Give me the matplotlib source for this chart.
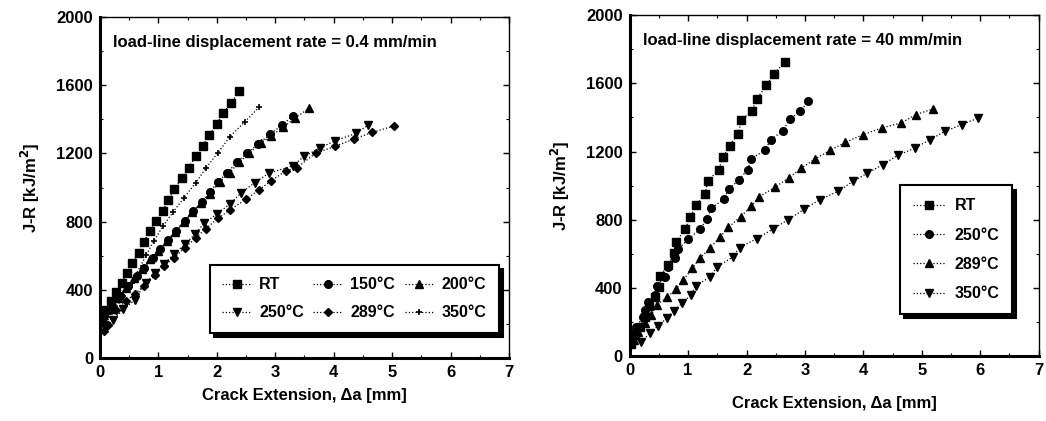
import matplotlib.pyplot as plt
from matplotlib.ticker import MultipleLocator

plt.rcParams['font.family'] = ['Liberation Sans', 'DejaVu Sans']
plt.rcParams['font.weight'] = 'bold'

# ---- left panel: 0.4 mm/min ----
rt_x = [0.03, 0.10, 0.19, 0.27, 0.37, 0.46, 0.55, 0.66, 0.75, 0.85, 0.95, 1.07, 1.17,
        1.27, 1.40, 1.52, 1.64, 1.76, 1.87, 2.00, 2.10, 2.24, 2.38]
rt_y = [225, 280, 333, 386, 441, 500, 559, 617, 680, 745, 804, 862, 927,
        990, 1054, 1117, 1186, 1245, 1309, 1370, 1435, 1493, 1565]

c150_x = [0.07, 0.20, 0.34, 0.48, 0.63, 0.76, 0.91, 1.03, 1.17, 1.30, 1.45, 1.60, 1.74,
          1.88, 2.02, 2.18, 2.34, 2.51, 2.71, 2.91, 3.12, 3.30]
c150_y = [245, 304, 363, 421, 480, 529, 584, 637, 692, 745, 804, 862, 915,
          974, 1033, 1088, 1147, 1201, 1254, 1313, 1366, 1421]

c200_x = [0.05, 0.17, 0.30, 0.44, 0.58, 0.72, 0.86, 1.00, 1.14, 1.28, 1.43, 1.58, 1.73,
          1.88, 2.05, 2.22, 2.38, 2.55, 2.75, 2.93, 3.13, 3.33, 3.58]
c200_y = [235, 290, 350, 410, 470, 525, 580, 630, 685, 740, 800, 855, 910,
          964, 1033, 1088, 1147, 1201, 1260, 1303, 1352, 1405, 1466]

c250_x = [0.09, 0.23, 0.40, 0.60, 0.78, 0.94, 1.09, 1.26, 1.45, 1.62, 1.78, 2.01, 2.22,
          2.42, 2.65, 2.89, 3.30, 3.49, 3.76, 4.02, 4.38, 4.59]
c250_y = [176, 225, 285, 343, 441, 496, 549, 608, 666, 725, 790, 847, 902,
          970, 1029, 1084, 1127, 1182, 1231, 1274, 1317, 1366]

c289_x = [0.06, 0.13, 0.28, 0.44, 0.60, 0.76, 0.94, 1.09, 1.27, 1.45, 1.64, 1.81, 2.02,
          2.22, 2.50, 2.72, 2.93, 3.18, 3.37, 3.69, 4.02, 4.34, 4.66, 5.04]
c289_y = [157, 196, 284, 333, 378, 425, 484, 539, 588, 647, 704, 759, 819,
          868, 931, 986, 1039, 1098, 1117, 1201, 1241, 1284, 1323, 1362]

c350_x = [0.10, 0.26, 0.40, 0.54, 0.79, 0.92, 1.08, 1.25, 1.44, 1.64, 1.82, 2.02, 2.22,
          2.48, 2.72]
c350_y = [206, 284, 363, 441, 602, 686, 774, 856, 941, 1029, 1117, 1205, 1297,
          1386, 1470]

# ---- right panel: 40 mm/min ----
f_rt_x = [0.03, 0.09, 0.17, 0.26, 0.33, 0.43, 0.50, 0.52, 0.66, 0.75, 0.79, 0.95, 1.04,
          1.14, 1.29, 1.34, 1.52, 1.60, 1.71, 1.86, 1.91, 2.09, 2.18, 2.34, 2.47, 2.65]
f_rt_y = [74, 123, 172, 231, 294, 349, 408, 470, 535, 604, 668, 745, 819,
          888, 953, 1029, 1090, 1168, 1235, 1305, 1384, 1437, 1511, 1588, 1654, 1725]

f250_x = [0.05, 0.11, 0.23, 0.27, 0.31, 0.44, 0.47, 0.60, 0.66, 0.77, 0.83, 1.00, 1.21,
          1.32, 1.40, 1.61, 1.70, 1.87, 2.02, 2.08, 2.31, 2.42, 2.62, 2.75, 2.92, 3.06]
f250_y = [133, 172, 231, 270, 319, 359, 412, 466, 525, 578, 627, 686, 745,
          804, 868, 921, 980, 1035, 1094, 1158, 1207, 1270, 1323, 1392, 1437, 1495]

f289_x = [0.07, 0.15, 0.26, 0.37, 0.46, 0.64, 0.79, 0.92, 1.07, 1.20, 1.37, 1.54, 1.69,
          1.90, 2.08, 2.21, 2.49, 2.72, 2.94, 3.17, 3.43, 3.69, 3.99, 4.32, 4.65, 4.90, 5.19]
f289_y = [94, 143, 192, 241, 300, 345, 392, 447, 515, 574, 633, 696, 755,
          819, 878, 933, 992, 1045, 1103, 1156, 1207, 1254, 1299, 1339, 1368, 1417, 1450]

f350_x = [0.20, 0.34, 0.48, 0.63, 0.75, 0.90, 1.05, 1.13, 1.38, 1.50, 1.76, 1.88, 2.18,
          2.45, 2.71, 2.99, 3.25, 3.56, 3.82, 4.07, 4.33, 4.59, 4.88, 5.14, 5.40, 5.68, 5.97]
f350_y = [84, 133, 176, 221, 265, 310, 359, 412, 466, 525, 580, 637, 690,
          745, 800, 862, 917, 966, 1025, 1074, 1123, 1178, 1221, 1270, 1319, 1358, 1397]

fig = plt.figure(figsize=(10.46, 4.21), dpi=100)
ax1 = fig.add_axes([0.0956, 0.1496, 0.391, 0.81])
ax2 = fig.add_axes([0.602, 0.154, 0.391, 0.81])

line_kw = dict(color='black', linestyle=':', linewidth=0.9, markersize=5.5)


def style(ax, note):
    ax.set_xlim(0, 7)
    ax.set_ylim(0, 2000)
    ax.xaxis.set_major_locator(MultipleLocator(1))
    ax.xaxis.set_minor_locator(MultipleLocator(0.5))
    ax.yaxis.set_major_locator(MultipleLocator(400))
    ax.yaxis.set_minor_locator(MultipleLocator(200))
    ax.tick_params(which='both', direction='in', top=True, right=True, labelsize=12)
    ax.tick_params(which='major', length=4, width=1, pad=5)
    ax.tick_params(which='minor', length=2, width=0.8)
    for s in ['left', 'bottom']:
        ax.spines[s].set_linewidth(2.2)
    for s in ['top', 'right']:
        ax.spines[s].set_linewidth(1.0)
    ax.set_xlabel('Crack Extension, Δa [mm]', fontsize=12, fontweight='bold')
    ax.set_ylabel('J-R [kJ/m$^\\mathbf{2}$]', fontsize=12, fontweight='bold')
    ax.yaxis.labelpad = 10
    ax.text(0.032, 0.925, note, transform=ax.transAxes, fontsize=12,
            fontweight='bold', va='center')


h_rt, = ax1.plot(rt_x, rt_y, marker='s', label='RT', **line_kw)
h150, = ax1.plot(c150_x, c150_y, marker='o', label='150°C', **line_kw)
h200, = ax1.plot(c200_x, c200_y, marker='^', label='200°C', **line_kw)
h250, = ax1.plot(c250_x, c250_y, marker='v', label='250°C', **line_kw)
h289, = ax1.plot(c289_x, c289_y, marker='D', label='289°C', markersize=4.5,
                 color='black', linestyle=':', linewidth=0.9)
h350, = ax1.plot(c350_x, c350_y, marker='+', label='350°C', markersize=5,
                 color='black', linestyle=':', linewidth=0.9, markeredgewidth=1.2)
style(ax1, 'load-line displacement rate = 0.4 mm/min')
ax1.xaxis.labelpad = 6

ax2.plot(f_rt_x, f_rt_y, marker='s', label='RT', **line_kw)
ax2.plot(f250_x, f250_y, marker='o', label='250°C', **line_kw)
ax2.plot(f289_x, f289_y, marker='^', label='289°C', **line_kw)
ax2.plot(f350_x, f350_y, marker='v', label='350°C', **line_kw)
style(ax2, 'load-line displacement rate = 40 mm/min')
ax2.xaxis.labelpad = 13

leg_kw = dict(fancybox=False, edgecolor='black', framealpha=1,
              shadow={'color': 'black', 'ox': 3, 'oy': -3, 'alpha': 1},
              prop={'size': 11.5, 'weight': 'bold'})
# row-wise order: RT, 150, 200 / 250, 289, 350
order = [h_rt, h250, h150, h289, h200, h350]
l1 = ax1.legend(order, [h.get_label() for h in order], ncol=3,
                loc='lower right', bbox_to_anchor=(0.995, 0.05),
                columnspacing=0.6, handletextpad=0.5, borderpad=0.8,
                labelspacing=0.8, handlelength=1.8, **leg_kw)
l1.get_frame().set_linewidth(1.5)
l2 = ax2.legend(loc='lower right', bbox_to_anchor=(0.955, 0.10),
                handletextpad=0.6, borderpad=0.8, labelspacing=0.9,
                handlelength=2.0, **leg_kw)
l2.get_frame().set_linewidth(1.5)

fig.savefig('out.png', dpi=100)
